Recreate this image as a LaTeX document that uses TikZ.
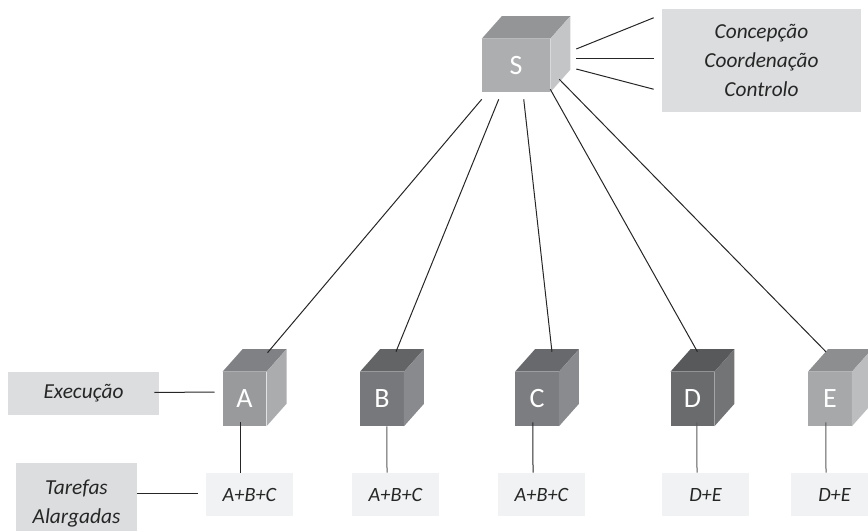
\documentclass[tikz,border=0pt]{standalone}
\usepackage{fontspec}
\setmainfont{Carlito}
\usetikzlibrary{positioning}
\definecolor{frontS}{HTML}{ADAEB0}
\definecolor{topS}{HTML}{949597}
\definecolor{sideS}{HTML}{C4C5C7}
\definecolor{frontA}{HTML}{999A9C}
\definecolor{topA}{HTML}{808184}
\definecolor{sideA}{HTML}{ABACAE}
\definecolor{frontB}{HTML}{77787B}
\definecolor{topB}{HTML}{636466}
\definecolor{sideB}{HTML}{898A8D}
\definecolor{frontC}{HTML}{7C7D80}
\definecolor{topC}{HTML}{68696C}
\definecolor{sideC}{HTML}{8A8B8E}
\definecolor{frontD}{HTML}{6A6B6D}
\definecolor{topD}{HTML}{58595B}
\definecolor{sideD}{HTML}{737476}
\definecolor{frontE}{HTML}{A7A8AA}
\definecolor{topE}{HTML}{8D8E90}
\definecolor{sideE}{HTML}{BCBDBF}
\definecolor{infofill}{HTML}{DCDDDE}
\definecolor{taskfill}{HTML}{F1F2F3}
\tikzset{
	cube/.style = {rectangle, inner sep=0pt, text=white, minimum width=32.6pt, minimum height=40.5pt, font=\fontsize{21}{25}\selectfont},
	info/.style = {rectangle, fill=infofill, inner sep=0pt, align=center, text=black!85, font=\fontsize{16}{22}\selectfont\itshape},
	task/.style = {rectangle, fill=taskfill, inner sep=0pt, minimum width=65.25pt, minimum height=32.25pt, text=black!85, font=\fontsize{15.2}{18}\selectfont\itshape},
	link/.style = {line width=0.75pt, black!85},
	paler/.style = {line width=0.75pt, black!65}
}
\begin{document}
\begin{tikzpicture}[x=0.75pt,y=-0.75pt]
	\useasboundingbox (0,0) rectangle (868,531);
	\node [cube, fill=frontS, minimum width=51pt, minimum height=39.75pt] (S) at (516,65.5) {S};
	\node [cube, fill=frontA] (A) at (244.5,399) {A};
	\node [cube, fill=frontB, right of=A, node distance=103.1pt] (B) {B};
	\node [cube, fill=frontC, right of=B, node distance=116.25pt] (C) {C};
	\node [cube, fill=frontD, right of=C, node distance=116.6pt] (D) {D};
	\node [cube, fill=frontE, right of=D, node distance=103.1pt] (E) {E};

	\foreach \cubename in {S,A,B,C,D,E} {
		\fill [top\cubename] (\cubename.north west) -- ([shift={(20,-22.5)}]\cubename.north west) -- ([shift={(20,-22.5)}]\cubename.north east) -- (\cubename.north east) -- cycle;
		\fill [side\cubename] (\cubename.north east) -- ([shift={(20,-22.5)}]\cubename.north east) -- ([shift={(20,-22.5)}]\cubename.south east) -- (\cubename.south east) -- cycle;
	}

	\node [info, minimum width=149.25pt, minimum height=77.25pt] (Cargos) at (761.5,60.5) {Concepção\\Coordenação\\Controlo};
	\node [info, minimum width=113.25pt, minimum height=32.25pt] (Exec) at (83.5,393.5) {Execução};
	\node [info, minimum width=90.75pt, minimum height=60.75pt] (Tarefas) at (76.5,503.5) {Tarefas\\Alargadas};

	\node [task] (TA) at (249.5,494.5) {A+B+C};
	\node [task, right of=TA, node distance=109.5pt] (TB) {A+B+C};
	\node [task, right of=TB, node distance=109.5pt] (TC) {A+B+C};
	\node [task, right of=TC, node distance=123pt] (TD) {D+E};
	\node [task, right of=TD, node distance=96.75pt] (TE) {D+E};

	\draw [link] ([shift={(26,-16.5)}]S.east) -- ([shift={(-8,9)}]Cargos.north west);
	\draw [link] ([shift={(26,-6.5)}]S.east) -- ([shift={(-8,-1.5)}]Cargos.west);
	\draw [link] ([shift={(26,3.5)}]S.east) -- ([shift={(-8,-23)}]Cargos.south west);

	\draw [link] ([shift={(0,7)}]S.south west) -- ([shift={(1,-19)}]A.north east);
	\draw [link] ([shift={(17,7)}]S.south west) -- ([shift={(-8,-20)}]B.north east);
	\draw [link] ([shift={(42,7)}]S.south west) -- ([shift={(-7,-20)}]C.north east);
	\draw [link] ([shift={(0,-3)}]S.south east) -- ([shift={(-17,-20)}]D.north east);
	\draw [link] ([shift={(9,-13)}]S.south east) -- ([shift={(-26,-20)}]E.north east);

	\draw [link] ([shift={(-5,-1)}]Exec.east) -- ([shift={(-8,-7)}]A.west);
	\draw [link] ([shift={(0,-10.5)}]Tarefas.east) -- ([shift={(-8,-1.5)}]TA.west);

	\draw [link] ([shift={(-4.5,-4)}]A.south) -- ([shift={(-9.5,0)}]TA.north);
	\draw [paler] ([shift={(5,0)}]B.south) -- ([shift={(-8.5,0)}]TB.north);
	\draw [link] ([shift={(-4,-4)}]C.south) -- ([shift={(-8.5,0)}]TC.north);
	\draw [paler] ([shift={(4.5,-4)}]D.south) -- ([shift={(-8.5,0)}]TD.north);
	\draw [paler] ([shift={(-4,-4)}]E.south) -- ([shift={(-8.5,0)}]TE.north);
\end{tikzpicture}
\end{document}
